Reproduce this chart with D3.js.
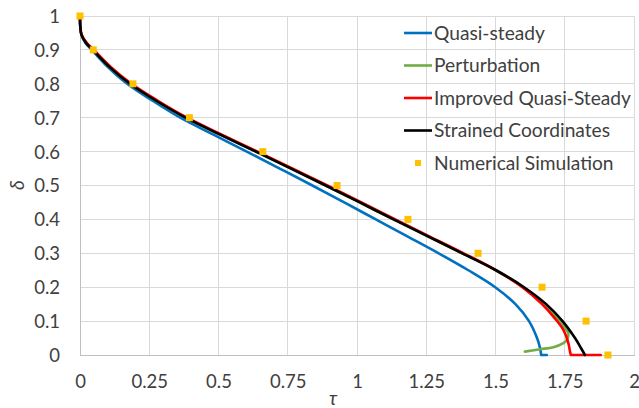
<!DOCTYPE html>
<html><head><meta charset="utf-8">
<script src="https://cdn.jsdelivr.net/npm/d3@7"></script>
<style>
html,body{margin:0;padding:0;background:#fff;}
svg text{font-family:Lato,"Open Sans",sans-serif;fill:#404040;}
</style></head>
<body><svg id="c" width="639" height="408"></svg>
<script>
const xTicks = [0, 0.25, 0.5, 0.75, 1, 1.25, 1.5, 1.75, 2];
const xTickLabels = ["0", "0.25", "0.5", "0.75", "1", "1.25", "1.5", "1.75", "2"];
const yTicks = [0, 0.1, 0.2, 0.3, 0.4, 0.5, 0.6, 0.7, 0.8, 0.9, 1];
const yTickLabels = ["0", "0.1", "0.2", "0.3", "0.4", "0.5", "0.6", "0.7", "0.8", "0.9", "1"];
const seriesNames = ["Quasi-steady", "Perturbation", "Improved Quasi-Steady", "Strained Coordinates", "Numerical Simulation"];

const quasiTau   = [0, 0.001, 0.005, 0.02, 0.043, 0.1, 0.17, 0.262, 0.362, 0.482, 0.602, 0.721, 0.839, 0.954, 1.068, 1.182, 1.295, 1.402, 1.499, 1.572, 1.621, 1.65, 1.661, 1.665, 1.685];
const quasiDelta = [1, 0.97, 0.945, 0.92, 0.9, 0.85, 0.8, 0.75, 0.7, 0.65, 0.6, 0.55, 0.5, 0.45, 0.4, 0.35, 0.3, 0.25, 0.2, 0.15, 0.1, 0.05, 0.02, 0, 0];

const pertTau   = [0, 0.001, 0.005, 0.022, 0.046, 0.106, 0.18, 0.275, 0.381, 0.506, 0.635, 0.762, 0.887, 1.01, 1.132, 1.256, 1.38, 1.5, 1.6, 1.675, 1.721, 1.751, 1.763, 1.757, 1.745, 1.709, 1.661, 1.606];
const pertDelta = [1, 0.97, 0.945, 0.92, 0.9, 0.85, 0.8, 0.75, 0.7, 0.65, 0.6, 0.55, 0.5, 0.45, 0.4, 0.35, 0.3, 0.25, 0.2, 0.15, 0.108, 0.079, 0.064, 0.044, 0.035, 0.023, 0.017, 0.01];

const iqsTau   = [0, 0.001, 0.006, 0.025, 0.05, 0.111, 0.186, 0.281, 0.387, 0.512, 0.641, 0.768, 0.893, 1.016, 1.138, 1.261, 1.385, 1.502, 1.597, 1.668, 1.709, 1.745, 1.763, 1.769, 1.772, 1.88];
const iqsDelta = [1, 0.97, 0.945, 0.92, 0.9, 0.85, 0.8, 0.75, 0.7, 0.65, 0.6, 0.55, 0.5, 0.45, 0.4, 0.35, 0.3, 0.25, 0.2, 0.15, 0.113, 0.074, 0.035, 0.01, 0, 0];

const scTau   = [0, 0.001, 0.005, 0.022, 0.046, 0.106, 0.18, 0.275, 0.381, 0.506, 0.635, 0.762, 0.887, 1.01, 1.132, 1.256, 1.38, 1.502, 1.603, 1.683, 1.742, 1.787, 1.809, 1.823];
const scDelta = [1, 0.97, 0.945, 0.92, 0.9, 0.85, 0.8, 0.75, 0.7, 0.65, 0.6, 0.55, 0.5, 0.45, 0.4, 0.35, 0.3, 0.25, 0.2, 0.15, 0.1, 0.05, 0.02, 0];

const simTau   = [0, 0.048, 0.191, 0.395, 0.66, 0.928, 1.184, 1.437, 1.668, 1.827, 1.906];
const simDelta = [1, 0.9, 0.8, 0.7, 0.6, 0.5, 0.4, 0.3, 0.2, 0.1, 0];

const colors = ["#0070C0", "#70AD47", "#FF0000", "#000000", "#FFC000"];

const svg = d3.select("#c");
const x = d3.scaleLinear().domain([0, 2]).range([80, 634]);
const y = d3.scaleLinear().domain([0, 1]).range([355, 16]);

// gridlines
const g = svg.append("g");
g.selectAll("line.v").data(xTicks).join("line")
  .attr("x1", d => x(d)).attr("x2", d => x(d)).attr("y1", y(0)).attr("y2", y(1))
  .attr("stroke", "#D9D9D9").attr("stroke-width", 1).attr("shape-rendering", "crispEdges");
g.selectAll("line.h").data(yTicks).join("line")
  .attr("x1", x(0)).attr("x2", x(2)).attr("y1", d => y(d)).attr("y2", d => y(d))
  .attr("stroke", "#D9D9D9").attr("stroke-width", 1).attr("shape-rendering", "crispEdges");

// axes (labels only)
const xAxis = d3.axisBottom(x).tickValues(xTicks).tickFormat((d, i) => xTickLabels[i]).tickSize(0).tickPadding(0);
const xa = svg.append("g").attr("transform", `translate(0,${y(0)})`).call(xAxis);
xa.select(".domain").attr("stroke", "#BFBFBF").attr("shape-rendering", "crispEdges");
xa.selectAll("text").attr("y", 33).attr("dy", 0).style("font-size", "18.5px").attr("fill", "#404040");

const yAxis = d3.axisLeft(y).tickValues(yTicks).tickFormat((d, i) => yTickLabels[i]).tickSize(0).tickPadding(0);
const ya = svg.append("g").attr("transform", `translate(${x(0)},0)`).call(yAxis);
ya.select(".domain").attr("stroke", "#BFBFBF").attr("shape-rendering", "crispEdges");
ya.selectAll("text").attr("x", -20).attr("dy", "0.35em").style("font-size", "18.5px").attr("fill", "#404040");

// axis titles
svg.append("text").attr("transform", "translate(24,185) rotate(-90)").attr("text-anchor", "middle")
  .style("font-size", "19px").style("font-style", "italic").text("δ");
svg.append("text").attr("x", 333).attr("y", 405).attr("text-anchor", "middle")
  .style("font-size", "19px").style("font-style", "italic").text("τ");

// lines: smooth main part, straight tail along δ = 0
const curveLine = d3.line().x(d => x(d[0])).y(d => y(d[1])).curve(d3.curveCatmullRom.alpha(0.5));
const straight = d3.line().x(d => x(d[0])).y(d => y(d[1]));
const zip = (a, b) => a.map((v, i) => [v, b[i]]);
const seriesData = [zip(quasiTau, quasiDelta), zip(pertTau, pertDelta), zip(iqsTau, iqsDelta), zip(scTau, scDelta)];
seriesData.forEach((d, i) => {
  const k = d.findIndex(p => p[1] === 0);
  const main = k >= 0 ? d.slice(0, k + 1) : d;
  const tail = k >= 0 ? d.slice(k) : [];
  let path = curveLine(main);
  if (tail.length > 1) path += straight(tail);
  svg.append("path").attr("d", path).attr("fill", "none")
    .attr("stroke", colors[i]).attr("stroke-width", 2.6).attr("stroke-linejoin", "round").attr("stroke-linecap", "round");
});

// markers
svg.append("g").selectAll("rect").data(zip(simTau, simDelta)).join("rect")
  .attr("x", d => x(d[0]) - 3.5).attr("y", d => y(d[1]) - 3.5).attr("width", 7).attr("height", 7)
  .attr("fill", colors[4]);

// legend
const lg = svg.append("g");
const rowY = [33, 65.5, 98, 130.5, 163];
seriesNames.forEach((n, i) => {
  if (i < 4) {
    lg.append("line").attr("x1", 404).attr("x2", 432).attr("y1", rowY[i]).attr("y2", rowY[i])
      .attr("stroke", colors[i]).attr("stroke-width", 2.6);
  } else {
    lg.append("rect").attr("x", 415).attr("y", rowY[i] - 3).attr("width", 6).attr("height", 6).attr("fill", colors[i]);
  }
  lg.append("text").attr("x", 434).attr("y", rowY[i]).attr("dy", "0.35em").style("font-size", "19.2px").text(n);
});
</script></body></html>
